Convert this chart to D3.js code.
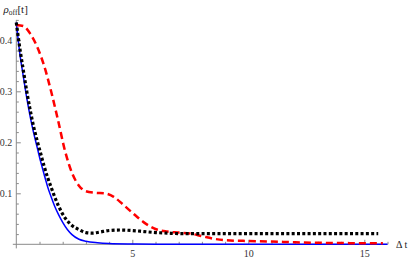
<!DOCTYPE html>
<html>
<head>
<meta charset="utf-8">
<script src="https://cdn.jsdelivr.net/npm/d3@7"></script>
<style>
  body { margin: 0; background: #fff; }
  svg { display: block; }
</style>
</head>
<body>
<div id="chart"></div>
<script>
// values
const blueT   = [0, 0.15, 0.3, 0.45, 0.6, 0.75, 0.9, 1.05, 1.2, 1.35, 1.5, 1.65, 1.8, 2.0, 2.2, 2.4, 2.7, 3.0, 3.5, 4.0, 5.0, 6.0, 8.0, 12.0, 16.0];
const blueV   = [0.435, 0.375, 0.33, 0.287, 0.25, 0.218, 0.19, 0.162, 0.137, 0.113, 0.093, 0.075, 0.06, 0.043, 0.029, 0.019, 0.01, 0.006, 0.003, 0.0015, 0.0005, 0.0001, 0, 0, 0];

const redT    = [0, 0.3, 0.6, 0.9, 1.2, 1.5, 1.8, 2.1, 2.4, 2.7, 3.0, 3.4, 3.8, 4.2, 4.6, 5.0, 5.5, 6.0, 6.5, 7.0, 7.5, 8.0, 8.5, 9.0, 10.0, 11.0, 12.0, 13.0, 14.0, 15.0, 15.8];
const redV    = [0.43, 0.428, 0.413, 0.387, 0.35, 0.3, 0.243, 0.183, 0.14, 0.115, 0.104, 0.101, 0.1, 0.093, 0.078, 0.062, 0.043, 0.03, 0.025, 0.023, 0.021, 0.016, 0.011, 0.008, 0.0065, 0.0055, 0.004, 0.003, 0.0025, 0.002, 0.002];

const blackT  = [0, 0.15, 0.3, 0.45, 0.6, 0.75, 0.9, 1.05, 1.2, 1.35, 1.5, 1.8, 2.1, 2.4, 2.7, 3.0, 3.3, 3.6, 4.0, 4.5, 5.0, 5.5, 6.0, 6.5, 7.0, 8.0, 10.0, 12.0, 14.0, 15.6];
const blackV  = [0.435, 0.385, 0.342, 0.3, 0.263, 0.23, 0.203, 0.178, 0.153, 0.131, 0.112, 0.077, 0.052, 0.037, 0.029, 0.023, 0.022, 0.024, 0.027, 0.028, 0.027, 0.025, 0.023, 0.022, 0.021, 0.021, 0.021, 0.021, 0.021, 0.021];

const xMajor = [5, 10, 15];
const xMinor = [1, 2, 3, 4, 6, 7, 8, 9, 11, 12, 13, 14, 16];
const yMajor = [0.1, 0.2, 0.3, 0.4];
const yMinor = [0.02, 0.04, 0.06, 0.08, 0.12, 0.14, 0.16, 0.18, 0.22, 0.24, 0.26, 0.28, 0.32, 0.34, 0.36, 0.38, 0.42, 0.44];

const W = 409, H = 260;
const serif = "Liberation Serif";

const svg = d3.select("#chart").append("svg")
    .attr("width", W)
    .attr("height", H)
    .style("font-family", serif);

const x = d3.scaleLinear().domain([0, 16]).range([16.3, 387.5]);
const y = d3.scaleLinear().domain([0, 0.44]).range([244.3, 19.9]);

const axisColor = "#8a8a8a";

// axis lines (slightly past the origin, as in the original)
svg.append("line")
    .attr("x1", x(-0.15)).attr("x2", x(16))
    .attr("y1", y(0)).attr("y2", y(0))
    .attr("stroke", axisColor).attr("stroke-width", 1);
svg.append("line")
    .attr("x1", x(0)).attr("x2", x(0))
    .attr("y1", y(-0.008)).attr("y2", y(0.44))
    .attr("stroke", axisColor).attr("stroke-width", 1);

function styleAxis(g) {
    g.attr("font-family", null).attr("font-size", 10);
    g.select(".domain").remove();
    g.selectAll(".tick line").attr("stroke", axisColor);
    g.selectAll(".tick text").attr("fill", "#333").style("font-family", serif);
}

// x ticks point up, labels below
svg.append("g")
    .attr("transform", `translate(0,${y(0)})`)
    .call(d3.axisBottom(x).tickValues(xMajor).tickSize(-4.5).tickPadding(6).tickFormat(d3.format("d")))
    .call(styleAxis);
svg.append("g")
    .attr("transform", `translate(0,${y(0)})`)
    .call(d3.axisBottom(x).tickValues(xMinor).tickSize(-2.5).tickFormat(""))
    .call(styleAxis);

// y ticks point right, labels left
svg.append("g")
    .attr("transform", `translate(${x(0)},0)`)
    .call(d3.axisLeft(y).tickValues(yMajor).tickSize(-4.5).tickPadding(4).tickFormat(d3.format(".1f")))
    .call(styleAxis);
svg.append("g")
    .attr("transform", `translate(${x(0)},0)`)
    .call(d3.axisLeft(y).tickValues(yMinor).tickSize(-2.5).tickFormat(""))
    .call(styleAxis);

const line = d3.line()
    .x(d => x(d[0]))
    .y(d => y(d[1]))
    .curve(d3.curveMonotoneX);

const zip = (ts, vs) => ts.map((t, i) => [t, vs[i]]);

svg.append("path")
    .datum(zip(blueT, blueV))
    .attr("fill", "none")
    .attr("stroke", "#0000ff")
    .attr("stroke-width", 1.5)
    .attr("d", line);

svg.append("path")
    .datum(zip(redT, redV))
    .attr("fill", "none")
    .attr("stroke", "#ff0000")
    .attr("stroke-width", 2.5)
    .attr("stroke-dasharray", "7,4")
    .attr("d", line);

svg.append("path")
    .datum(zip(blackT, blackV))
    .attr("fill", "none")
    .attr("stroke", "#000")
    .attr("stroke-width", 3.2)
    .attr("stroke-dasharray", "3,2.3")
    .attr("d", line);

// axis labels
const ylab = svg.append("text")
    .attr("x", 3.5)
    .attr("y", 12.5)
    .attr("fill", "#222")
    .style("font-family", serif)
    .attr("font-size", 11);
ylab.append("tspan").text("ρ").attr("font-style", "italic");
ylab.append("tspan").text("off").attr("dy", 2.5).attr("font-size", 7.5);
ylab.append("tspan").text("[t]").attr("dy", -2.5);

svg.append("text")
    .attr("x", 396)
    .attr("y", y(0) + 3.5)
    .attr("fill", "#222")
    .style("font-family", serif)
    .attr("font-size", 10)
    .text("Δ t");
</script>
</body>
</html>
